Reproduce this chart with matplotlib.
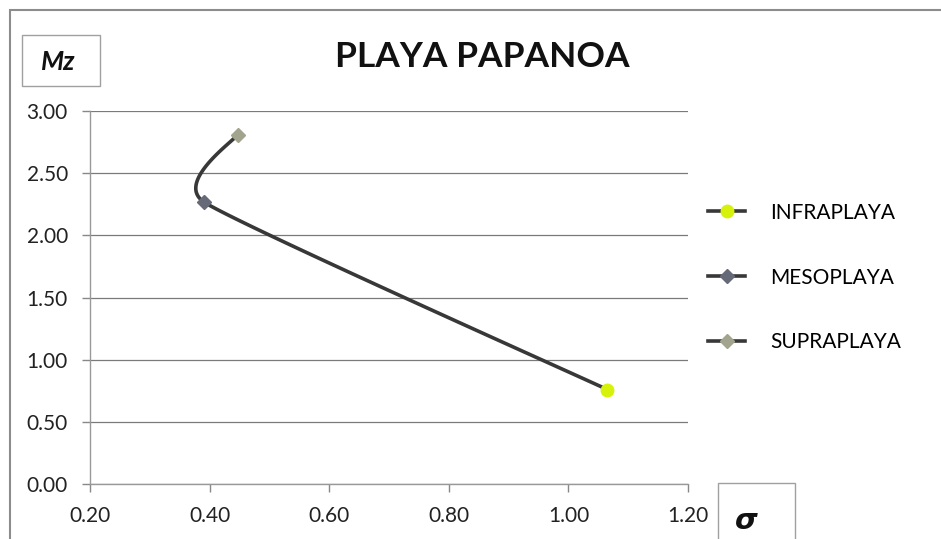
import numpy as np
import matplotlib
matplotlib.use("Agg")
import matplotlib.pyplot as plt
from matplotlib.lines import Line2D
from matplotlib.patches import Rectangle

plt.rcParams['font.family'] = ['Lato', 'DejaVu Sans']

# datos (sigma, Mz)
zonas = ['INFRAPLAYA', 'MESOPLAYA', 'SUPRAPLAYA']
sigma = [1.065, 0.39, 0.447]
mz = [0.76, 2.27, 2.81]
colores = ['#d7f20a', '#666a78', '#a3a48e']
marcas = ['o', 'D', 'D']

x_ticks = [0.20, 0.40, 0.60, 0.80, 1.00, 1.20]
y_ticks = [0.00, 0.50, 1.00, 1.50, 2.00, 2.50, 3.00]

fig = plt.figure(figsize=(9.41, 5.39), dpi=100)
ax = fig.add_axes([90 / 941, 1 - 484 / 539, 598 / 941, 373 / 539])

# curva suavizada (tipo Excel) a traves de los puntos
sx, sy = 598.0, 373.0 / 3.0
P = np.column_stack([np.array(sigma) * sx, np.array(mz) * sy])
k = 0.47
curva = []
for i in range(len(P) - 1):
    p0 = P[max(i - 1, 0)]
    p1 = P[i]
    p2 = P[i + 1]
    p3 = P[min(i + 2, len(P) - 1)]
    c1 = p1 + k * (p2 - p0) / 6.0
    c2 = p2 - k * (p3 - p1) / 6.0
    t = np.linspace(0, 1, 60)[:, None]
    seg = (1 - t) ** 3 * p1 + 3 * (1 - t) ** 2 * t * c1 + 3 * (1 - t) * t ** 2 * c2 + t ** 3 * p2
    curva.append(seg)
curva = np.vstack(curva)
ax.plot(curva[:, 0] / sx, curva[:, 1] / sy, color='#383838', lw=2.6,
        solid_capstyle='round', zorder=3)

for i in range(len(zonas)):
    ax.plot(sigma[i], mz[i], marker=marcas[i], ms=9 if i == 0 else 7.5,
            color=colores[i], mec=colores[i], ls='none', zorder=4)

ax.set_xlim(0.2, 1.2)
ax.set_ylim(0, 3)
ax.set_xticks(x_ticks)
ax.set_yticks(y_ticks)
ax.set_xticklabels(['%.2f' % v for v in x_ticks])
ax.set_yticklabels(['%.2f' % v for v in y_ticks])
ax.tick_params(labelsize=15, colors='#888888', labelcolor='#222222', length=6,
               width=1, pad=10)
ax.grid(axis='y', color='#7a7a7a', lw=0.9)
ax.set_axisbelow(True)
for s in ['top', 'right']:
    ax.spines[s].set_visible(False)
for s in ['left', 'bottom']:
    ax.spines[s].set_color('#999999')
    ax.spines[s].set_linewidth(1)

# leyenda
handles = [Line2D([0], [0], color='#383838', lw=2.6, marker=marcas[i],
                  ms=9 if i == 0 else 7.5, mfc=colores[i], mec=colores[i])
           for i in range(len(zonas))]
fig.legend(handles, zonas, loc='upper left', bbox_to_anchor=(689 / 941, 1 - 184 / 539),
           frameon=False, fontsize=15, labelspacing=2.15, handlelength=1.8,
           handletextpad=1.2)

# titulo
fig.text(482 / 941, 1 - 57 / 539, 'PLAYA PAPANOA', ha='center', va='center',
         fontsize=25.5, fontweight='bold', color='#111111')

# marco exterior
fig.patches.append(Rectangle((10 / 941, -0.05), 1.0, 1 - 10 / 539 + 0.05,
                             transform=fig.transFigure, fill=False,
                             edgecolor='#8c8c8c', lw=1.5))

# cajas de los ejes
fig.patches.append(Rectangle((22 / 941, 1 - 86 / 539), 78 / 941, 51 / 539,
                             transform=fig.transFigure, fill=True, facecolor='white',
                             edgecolor='#a0a0a0', lw=1))
fig.text(58 / 941, 1 - 62 / 539, 'Mz', ha='center', va='center', fontsize=19,
         fontweight='bold', fontstyle='italic', color='#111111')
fig.patches.append(Rectangle((718 / 941, -0.05), 77 / 941, 56 / 539 + 0.05,
                             transform=fig.transFigure, fill=True, facecolor='white',
                             edgecolor='#a0a0a0', lw=1))
fig.text(746 / 941, 1 - 521 / 539, 'σ', ha='center', va='center', fontsize=21,
         fontweight='bold', fontstyle='italic', color='#111111',
         family=['DejaVu Sans'])

fig.savefig('out.png', dpi=100)
